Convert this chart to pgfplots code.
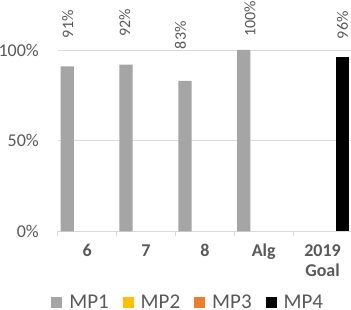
\documentclass[border=0pt]{standalone}
\usepackage{pgfplots}
\pgfplotsset{compat=1.18}
\usepackage{fontspec}
\setmainfont{Carlito}
\definecolor{mpone}{HTML}{A5A5A5}
\definecolor{mptwo}{HTML}{FFC000}
\definecolor{mpthree}{HTML}{ED7D31}
\definecolor{mpfour}{HTML}{000000}
\definecolor{txt}{HTML}{595959}
\definecolor{gridc}{HTML}{D9D9D9}
\pgfplotstableread{
x y
0 91
1 92
2 83
3 100
}\mpone
\pgfplotstableread{
x y
4 96
}\mpfour
\pgfplotstableread{
x y v
-0.328 106.45 91
0.638 107.33 92
1.586 100.39 83
2.767 107.33 100
4.340 105.9 96
}\labels
\begin{document}
\begin{tikzpicture}
\begin{axis}[
  at={(0,0)}, anchor=south west,
  scale only axis, width=294.3bp, height=181.3bp,
  xmin=-0.5, xmax=4.5, ymin=0, ymax=100,
  clip=false,
  axis x line*=bottom, axis y line*=left,
  y axis line style={draw=none},
  x axis line style={draw=gridc, line width=0.8bp, -},
  xtick={0,1,2,3,4},
  xticklabels={6,7,8,Alg,{\begin{tabular}[t]{@{}c@{}}2019\\Goal\end{tabular}}},
  major tick length=0bp,
  minor xtick={-0.5,0.5,1.5,2.5,3.5,4.5},
  minor x tick style={draw=gridc, line width=0.8bp},
  minor tick length=5bp,
  tick align=outside,
  ytick={0,50,100},
  yticklabel={\pgfmathprintnumber{\tick}\%},
  /pgf/number format/assume math mode=true,
  major y tick style={draw=none},
  ymajorgrids, y grid style={draw=gridc, line width=0.8bp},
  xticklabel style={font=\fontsize{18bp}{20bp}\selectfont\bfseries, text=txt, inner sep=0pt, anchor=base, yshift=-24.7bp},
  yticklabel style={font=\fontsize{18bp}{21bp}\selectfont, text=txt, anchor=east, inner sep=0pt, xshift=-18.7bp},
  sqlegend/.style={legend image code/.code={\fill[##1] (0bp,-5.5bp) rectangle (11bp,5.5bp);}},
  legend columns=4,
  legend style={at={(0.4400,-0.390)}, anchor=center, draw=none, fill=none, inner sep=0pt,
    font=\fontsize{21bp}{25bp}\selectfont, text=txt, nodes={inner sep=0pt},
    /tikz/every odd column/.append style={column sep=7bp},
    /tikz/every even column/.append style={column sep=14bp}},
]
\addplot[ybar, sqlegend, bar width=13.3bp, bar shift=-19.9bp, fill=mpone, draw=none] table[x=x,y=y] {\mpone};
\addlegendentry{MP1}
\addlegendimage{sqlegend, fill=mptwo, draw=none}
\addlegendentry{MP2}
\addlegendimage{sqlegend, fill=mpthree, draw=none}
\addlegendentry{MP3}
\addplot[ybar, sqlegend, bar width=13.3bp, bar shift=19.9bp, fill=mpfour, draw=none] table[x=x,y=y] {\mpfour};
\addlegendentry{MP4}
\addplot[draw=none, mark=none, forget plot, point meta=\thisrow{v},
  nodes near coords={\pgfmathprintnumber{\pgfplotspointmeta}\%},
  every node near coord/.append style={rotate=90, anchor=west, inner sep=0pt, font=\fontsize{16bp}{18bp}\selectfont, text=txt}]
  table[x=x,y=y] {\labels};
\end{axis}
\pgfresetboundingbox
\path[use as bounding box] (-57.7bp,-78.7bp) rectangle (293.3bp,231.3bp);
\end{tikzpicture}
\end{document}
